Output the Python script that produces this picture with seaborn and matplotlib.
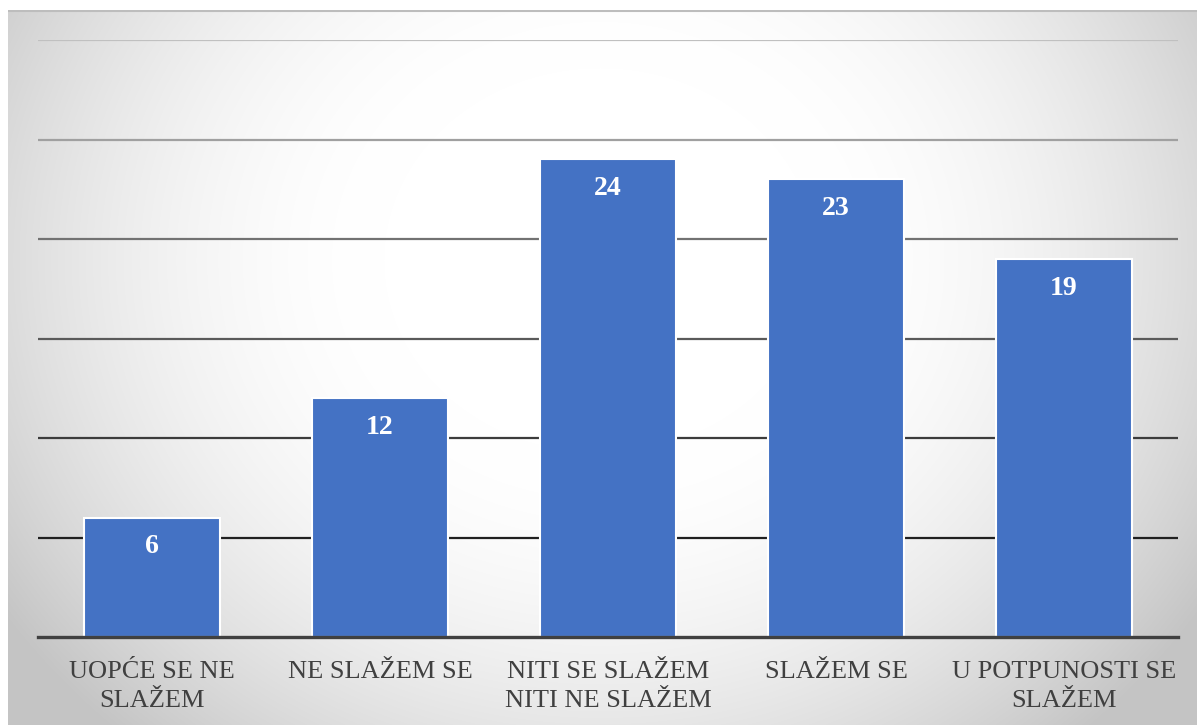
import numpy as np
import matplotlib
matplotlib.use("Agg")
import matplotlib.pyplot as plt
import seaborn as sns

categories = ["UOPĆE SE NE\nSLAŽEM", "NE SLAŽEM SE", "NITI SE SLAŽEM\nNITI NE SLAŽEM",
              "SLAŽEM SE", "U POTPUNOSTI SE\nSLAŽEM"]
values = [6, 12, 24, 23, 19]
grid_levels = [5, 10, 15, 20, 25, 30]
grid_colors = ["#202020", "#3c3c3c", "#5a5a5a", "#727272", "#a0a0a0", "#c0c0c0"]

sns.set_theme(style="white")
plt.rcParams['font.family'] = ['Liberation Serif', 'DejaVu Serif']

W, H = 1197, 725
fig = plt.figure(figsize=(W / 100, H / 100), dpi=100)
fig.patch.set_facecolor("white")

# radial gradient background panel
bx0, by0 = 8, 10
bg = fig.add_axes([bx0 / W, 0, 1 - bx0 / W, (H - by0) / H], zorder=0)
yy, xx = np.mgrid[by0:H, bx0:W]
cx, cy, rx, ry = 600, 260, 720, 640
d = np.sqrt(((xx - cx) / rx) ** 2 + ((yy - cy) / ry) ** 2)
t = np.clip((d - 0.30) / 0.70, 0, 1) ** 1.8
val = (255 - (255 - 196) * t) / 255.0
img = np.dstack([val, val, val])
bg.imshow(img, aspect="auto", extent=[0, 1, 0, 1], origin="upper", interpolation="bilinear")
bg.plot([0, 1], [0.998, 0.998], color="#bdbdbd", lw=1.5, transform=bg.transAxes)
bg.set_axis_off()

# main axes
x0, x1, ytop, ybot = 38, 1178, 40, 637
ax = fig.add_axes([x0 / W, (H - ybot) / H, (x1 - x0) / W, (ybot - ytop) / H], zorder=1)
ax.set_facecolor("none")

for lvl, c in zip(grid_levels, grid_colors):
    ax.axhline(lvl, color=c, lw=1.6, zorder=0)

sns.barplot(x=categories, y=values, color="#4472C4", saturation=1, width=0.6,
            edgecolor="white", linewidth=1.5, ax=ax, zorder=2)

for p, v in zip(ax.patches, values):
    ax.annotate(str(v), (p.get_x() + p.get_width() / 2, p.get_height()),
                xytext=(0, -21), textcoords="offset points", ha="center", va="center",
                color="white", fontsize=20, fontweight="bold", zorder=3)

ax.set_ylim(0, 30)
ax.set_xlim(-0.5, 4.5)
ax.set_yticks([])
ax.set_xlabel("")
ax.set_ylabel("")
for s in ["top", "right", "left"]:
    ax.spines[s].set_visible(False)
ax.spines["bottom"].set_color("#404040")
ax.spines["bottom"].set_linewidth(2.4)
ax.spines["bottom"].set_zorder(4)
ax.tick_params(axis="x", length=0, pad=17, labelsize=19, labelcolor="#404040")
for lab in ax.get_xticklabels():
    lab.set_linespacing(1.45)

fig.savefig("out.png", dpi=100, facecolor="white")
